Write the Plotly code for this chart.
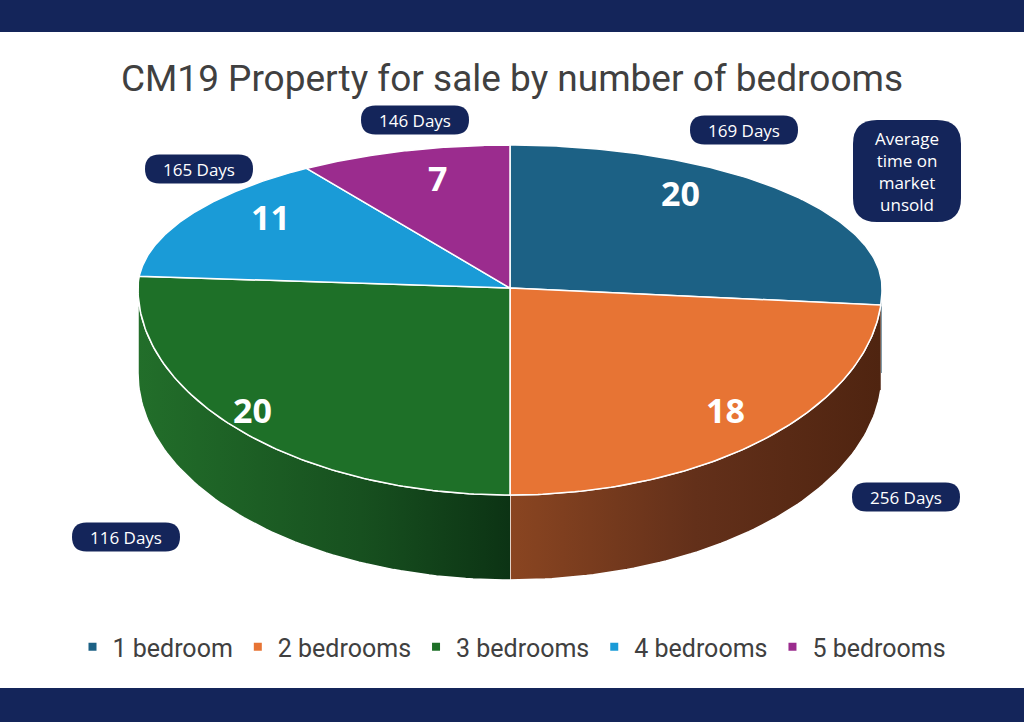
import numpy as np
import plotly.graph_objects as go

# %% Data
bedrooms = ["1 bedroom", "2 bedrooms", "3 bedrooms", "4 bedrooms", "5 bedrooms"]
listings = [20, 18, 20, 11, 7]
days_unsold = [169, 256, 116, 165, 146]
top_colors = ["#1c6185", "#e77434", "#1e7028", "#1a9bd7", "#9b2c8e"]
side_colors = [
    [[0, "#134a66"], [1, "#0f3b52"]],
    [[0, "#8a4521"], [0.5, "#63301a"], [1, "#4f2410"]],
    [[0, "#226e2a"], [0.6, "#17501f"], [1, "#0c3314"]],
    [[0, "#157aa8"], [1, "#157aa8"]],
    [[0, "#7a2270"], [1, "#7a2270"]],
]

# %% Geometry of the tilted pie (pixel space, y pointing down)
CX, CY = 510, 288
RX, RY_UP, RY_DOWN = 372, 143, 207
DEPTH = 85
NAVY = "#14255a"
FONT = "Liberation Sans Narrow, Roboto, sans-serif"


def rim(theta, drop=0):
    th = np.radians(theta)
    ry = np.where(np.cos(th) > 0, RY_UP, RY_DOWN)
    return CX + RX * np.sin(th), CY - ry * np.cos(th) + drop


total = sum(listings)
edges = np.concatenate([[0], np.cumsum(listings) / total * 360])

fig = go.Figure()

# side walls first (front half only, 90..270 deg)
for i, name in enumerate(bedrooms):
    lo, hi = max(edges[i], 90), min(edges[i + 1], 270)
    if lo >= hi:
        continue
    th = np.linspace(lo, hi, 80)
    xt, yt = rim(th)
    xb, yb = rim(th[::-1], DEPTH)
    fig.add_trace(go.Scatter(
        x=np.concatenate([xt, xb]), y=np.concatenate([yt, yb]),
        fill="toself", mode="lines", line=dict(color="white", width=1.5),
        fillgradient=dict(type="horizontal", colorscale=side_colors[i]),
        hoverinfo="skip", showlegend=False))

# top face slices
for i, name in enumerate(bedrooms):
    th = np.linspace(edges[i], edges[i + 1], 120)
    xr, yr = rim(th)
    fig.add_trace(go.Scatter(
        x=np.concatenate([[CX], xr, [CX]]), y=np.concatenate([[CY], yr, [CY]]),
        fill="toself", fillcolor=top_colors[i], mode="lines",
        line=dict(color="white", width=1.5),
        name=name, hovertemplate=name + ": %{text}<extra></extra>",
        text=[listings[i]] * (len(th) + 2), showlegend=False))

# legend entries
for name, c in zip(bedrooms, top_colors):
    fig.add_trace(go.Scatter(x=[None], y=[None], mode="markers", name=name,
                             marker=dict(symbol="square", size=8, color=c)))

# %% Labels
value_xy = [(680, 193), (725, 410), (252, 410), (270, 217), (437, 178)]
pill_xy = [(744, 130), (906, 497), (126, 537), (199, 169), (415, 120)]
PILL_W, PILL_H = 108, 29


def rounded_rect(x0, y0, x1, y1, r):
    return (f"M{x0 + r},{y0} L{x1 - r},{y0} Q{x1},{y0} {x1},{y0 + r} "
            f"L{x1},{y1 - r} Q{x1},{y1} {x1 - r},{y1} L{x0 + r},{y1} "
            f"Q{x0},{y1} {x0},{y1 - r} L{x0},{y0 + r} Q{x0},{y0} {x0 + r},{y0} Z")


shapes = [
    dict(type="rect", xref="paper", yref="paper", x0=0, x1=1, y0=1 - 32 / 722, y1=1,
         fillcolor=NAVY, line_width=0, layer="below"),
    dict(type="rect", xref="paper", yref="paper", x0=0, x1=1, y0=0, y1=34 / 722,
         fillcolor=NAVY, line_width=0, layer="below"),
]
annotations = []

for v, (x, y) in zip(listings, value_xy):
    annotations.append(dict(x=x, y=y, text=f"<b>{v}</b>", showarrow=False,
                            font=dict(family="Open Sans", size=34, color="white")))

for d, (x, y) in zip(days_unsold, pill_xy):
    shapes.append(dict(type="path", xref="x", yref="y", fillcolor=NAVY, line_width=0,
                       path=rounded_rect(x - PILL_W / 2, y - PILL_H / 2,
                                         x + PILL_W / 2, y + PILL_H / 2, PILL_H / 2)))
    annotations.append(dict(x=x, y=y, text=f"{d} Days", showarrow=False,
                            font=dict(family="Open Sans", size=17, color="white")))

# key box
shapes.append(dict(type="path", xref="x", yref="y", fillcolor=NAVY, line_width=0,
                   path=rounded_rect(853, 120, 961, 222, 24)))
annotations.append(dict(x=907, y=171, text="Average<br>time on<br>market<br>unsold",
                        showarrow=False,
                        font=dict(family="Open Sans", size=17, color="white")))

fig.update_layout(
    width=1024, height=722,
    margin=dict(l=0, r=0, t=0, b=0),
    paper_bgcolor="white", plot_bgcolor="white",
    title=dict(text="CM19 Property for sale by number of bedrooms",
               x=0.5, xanchor="center", y=1 - 78 / 722, yanchor="middle",
               font=dict(family=FONT, size=37, color="#404040")),
    xaxis=dict(range=[0, 1024], visible=False, fixedrange=True),
    yaxis=dict(range=[722, 0], visible=False, fixedrange=True),
    legend=dict(orientation="h", x=0.5, xanchor="center", y=1 - 647 / 722,
                yanchor="middle", itemwidth=30,
                font=dict(family=FONT, size=25, color="#404040"),
                itemclick=False),
    shapes=shapes,
    annotations=annotations,
)

# the page's default body margin would shift the 1024x722 figure
fig.write_html("out.html", config={"displayModeBar": False},
               post_script="document.body.style.margin='0';")
